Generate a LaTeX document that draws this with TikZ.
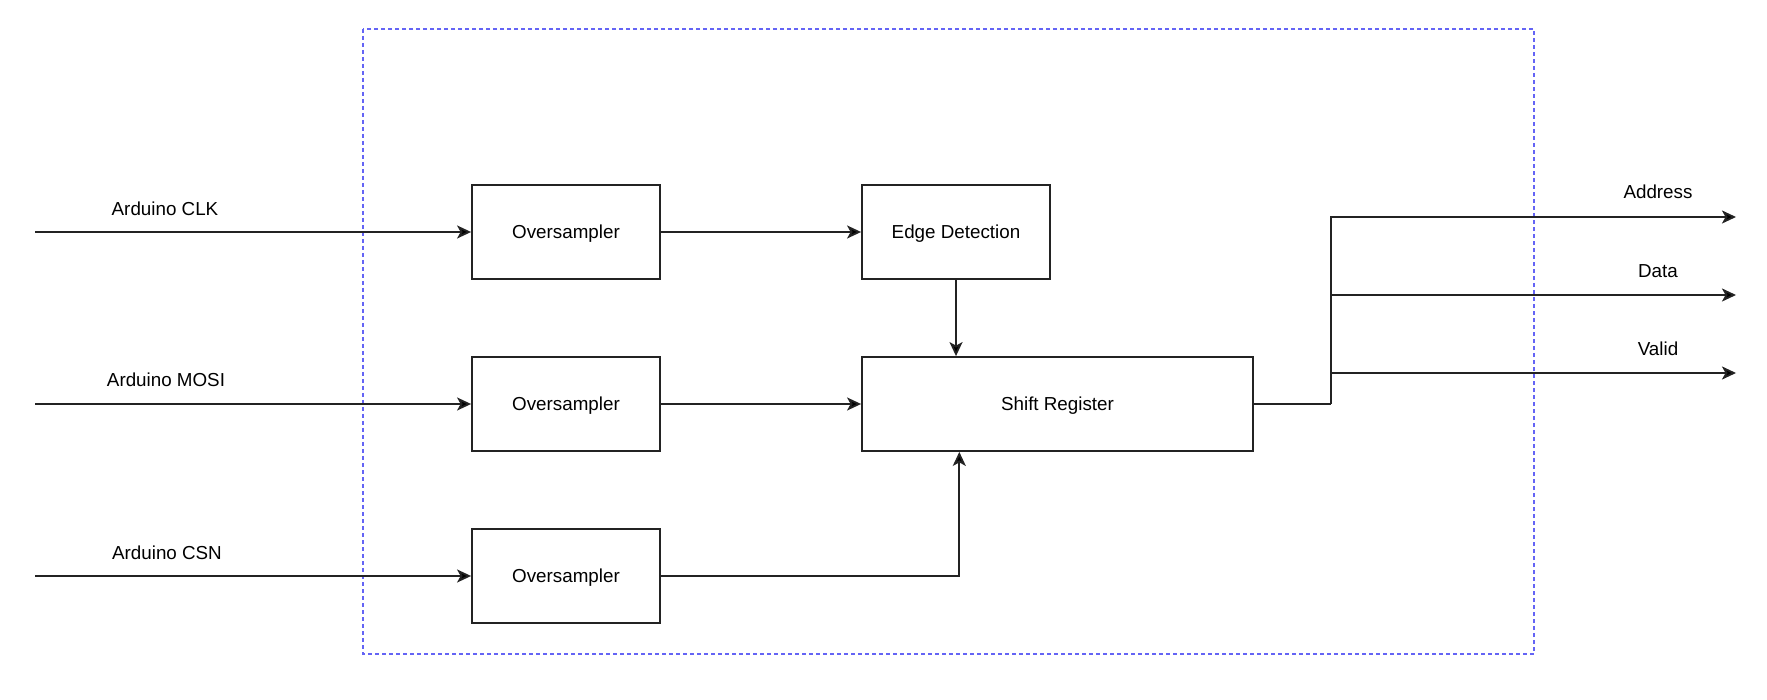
\documentclass[tikz,border=0pt]{standalone}
\usepackage{fontspec}
\setmainfont{Liberation Sans}
\usetikzlibrary{arrows.meta,calc}
\definecolor{lineC}{RGB}{35,35,35}
\definecolor{dashC}{RGB}{100,100,245}
\tikzset{
  blockbox/.style={draw=lineC, line width=1.8pt, rectangle, inner sep=0pt,
    minimum height=94pt, text height=13.5pt, text depth=0pt,
    font=\fontsize{18.8}{22}\selectfont},
  lbl/.style={anchor=base, inner sep=0pt, font=\fontsize{18.8}{22}\selectfont},
  conn/.style={draw=lineC, line width=1.8pt, -{Stealth[length=14pt,width=13pt,inset=3.5pt,fill=black]}},
  plainconn/.style={draw=lineC, line width=1.8pt},
  region/.style={draw=dashC, line width=1.6pt, dash pattern=on 4pt off 3pt}
}
\begin{document}
\begin{tikzpicture}[x=1pt,y=-1pt]
\useasboundingbox (0,0) rectangle (1767,700);
\fill[white] (0,0) rectangle (1767,700);

% dashed region
\draw[region] (363,29) rectangle (1534,654);

% blocks
\node[blockbox, minimum width=188pt] (os1) at (566,232) {Oversampler};
\node[blockbox, minimum width=188pt] (os2) at (566,404) {Oversampler};
\node[blockbox, minimum width=188pt] (os3) at (566,576) {Oversampler};
\node[blockbox, minimum width=188pt] (ed) at (956,232) {Edge Detection};
\node[blockbox, minimum width=391pt] (sr) at (1057.5,404) {Shift Register};

% input coordinates
\coordinate (inC) at (35,232);
\coordinate (inM) at (35,404);
\coordinate (inS) at (35,576);

% input labels
\node[lbl] (lC) at (165,215.7) {Arduino CLK};
\node[lbl] (lM) at (166,387) {Arduino MOSI};
\node[lbl] (lS) at (167,559.5) {Arduino CSN};

% input connectors
\draw[conn] (inC) -- (os1.west);
\draw[conn] (inM) -- (os2.west);
\draw[conn] (inS) -- (os3.west);

% internal connectors
\draw[conn] (os1.east) -- (ed.west);
\draw[conn] (os2.east) -- (sr.west);
\draw[conn] (ed.south) -- (ed.south |- sr.north);
\coordinate (csnup) at ($(sr.south west)!0.25!(sr.south east)$);
\draw[conn] (os3.east) -| (csnup);

% outputs
\coordinate (bus) at (1331,404);
\coordinate (outA) at (1736,217);
\coordinate (outD) at (1736,295);
\coordinate (outV) at (1736,373);
\draw[plainconn] (sr.east) -- (bus);
\draw[conn] (bus) |- (outA);
\draw[conn] (bus |- outD) -- (outD);
\draw[conn] (bus |- outV) -- (outV);

% output labels
\node[lbl] (lA) at (1658,198.7) {Address};
\node[lbl] (lD) at (1658,277.7) {Data};
\node[lbl] (lV) at (1658,355.7) {Valid};
\end{tikzpicture}
\end{document}
